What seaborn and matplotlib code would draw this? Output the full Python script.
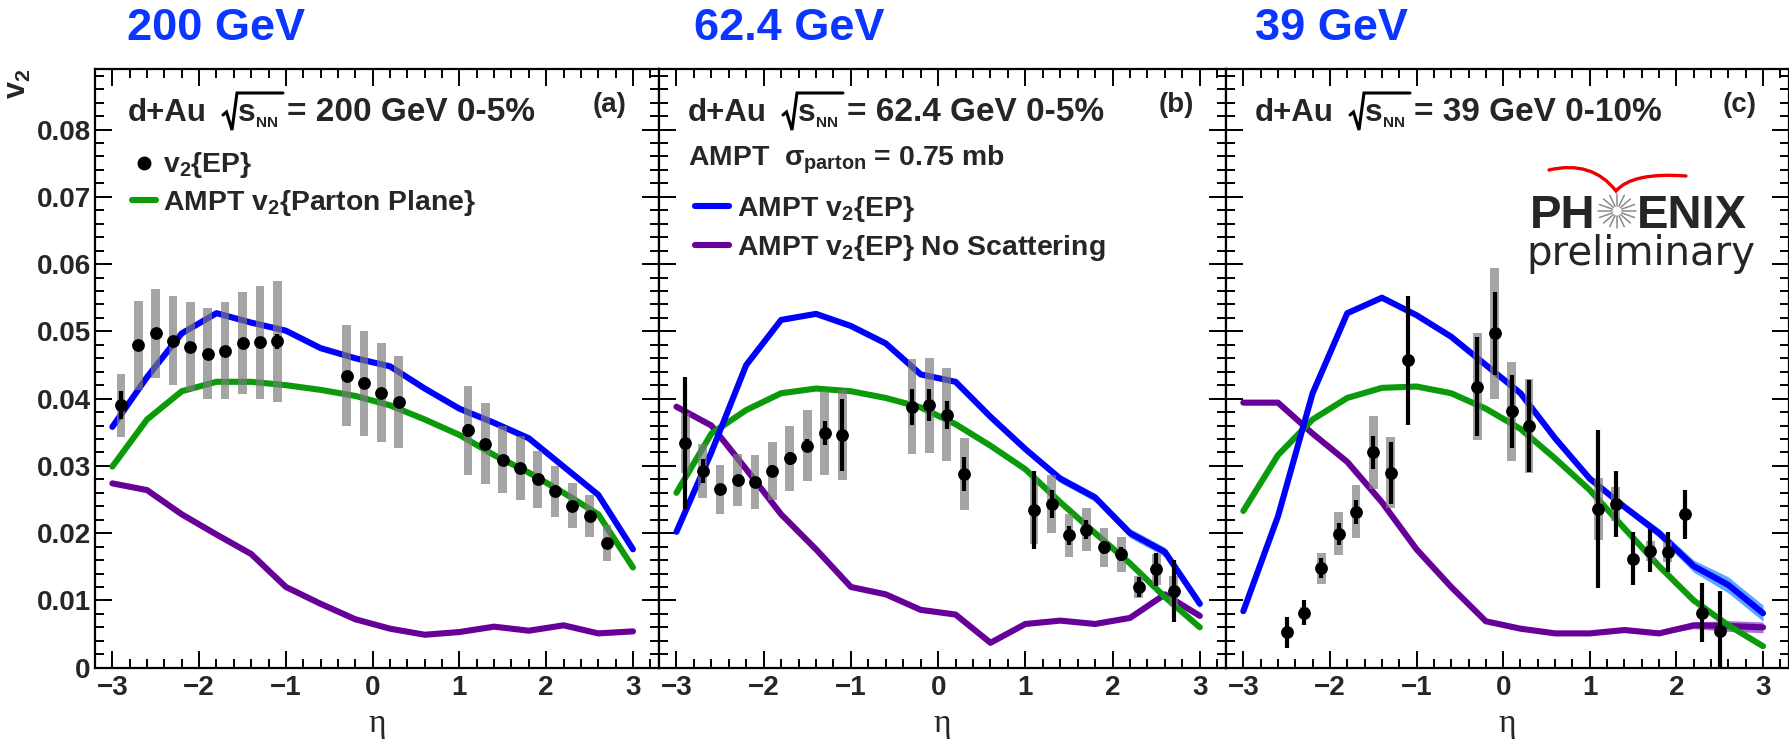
import numpy as np
import pandas as pd
import matplotlib
matplotlib.use("Agg")
import matplotlib.pyplot as plt
import seaborn as sns
from matplotlib.ticker import MultipleLocator, FixedLocator, FuncFormatter
from matplotlib.lines import Line2D
from matplotlib.path import Path
from matplotlib.patches import PathPatch

# ---------------- data ----------------
# AMPT pseudorapidity grid
ampt_eta = [-3.0, -2.6, -2.2, -1.8, -1.4, -1.0, -0.6, -0.2, 0.2, 0.6, 1.0, 1.4, 1.8, 2.2, 2.6, 3.0]

# d+Au 200 GeV 0-5%
eta_200 = [-2.9, -2.7, -2.5, -2.3, -2.1, -1.9, -1.7, -1.5, -1.3, -1.1,
           -0.3, -0.1, 0.1, 0.3,
           1.1, 1.3, 1.5, 1.7, 1.9, 2.1, 2.3, 2.5, 2.7]
v2_200 = [0.0390, 0.0479, 0.0497, 0.0486, 0.0477, 0.0467, 0.0471, 0.0483, 0.0484, 0.0485,
          0.0434, 0.0423, 0.0409, 0.0395,
          0.0353, 0.0333, 0.0309, 0.0297, 0.0280, 0.0262, 0.0241, 0.0226, 0.0185]
stat_200 = [0.0021, 0.0006, 0.0006, 0.0006, 0.0006, 0.0006, 0.0006, 0.0006, 0.0006, 0.0011,
            0.0006, 0.0006, 0.0006, 0.0006,
            0.0010, 0.0006, 0.0006, 0.0006, 0.0006, 0.0006, 0.0006, 0.0006, 0.0006]
syst_200 = [0.0047, 0.0066, 0.0066, 0.0066, 0.0066, 0.0067, 0.0072, 0.0076, 0.0084, 0.0090,
            0.0075, 0.0078, 0.0073, 0.0069,
            0.0066, 0.0060, 0.0050, 0.0047, 0.0042, 0.0038, 0.0033, 0.0031, 0.0027]
ampt_ep_200 = [0.0358, 0.0432, 0.0497, 0.0527, 0.0513, 0.0501, 0.0475, 0.0460, 0.0448, 0.0415,
               0.0385, 0.0364, 0.0341, 0.0299, 0.0257, 0.0176]
ampt_ep_err_200 = [0.0003] * 16
ampt_pp_200 = [0.0299, 0.0369, 0.0411, 0.0425, 0.0425, 0.0420, 0.0413, 0.0404, 0.0390, 0.0369,
               0.0346, 0.0316, 0.0290, 0.0260, 0.0228, 0.0149]
ampt_ns_200 = [0.0274, 0.0264, 0.0228, 0.0198, 0.0169, 0.0120, 0.0095, 0.0072, 0.0058, 0.0049,
               0.0053, 0.0061, 0.0055, 0.0063, 0.0051, 0.0054]
ampt_ns_err_200 = [0.0002] * 16

# d+Au 62.4 GeV 0-5%
eta_62 = list(eta_200)
v2_62 = [0.0334, 0.0292, 0.0265, 0.0279, 0.0276, 0.0293, 0.0311, 0.0330, 0.0349, 0.0346,
         0.0388, 0.0390, 0.0376, 0.0288,
         0.0234, 0.0243, 0.0197, 0.0205, 0.0179, 0.0169, 0.0120, 0.0146, 0.0114]
stat_62 = [0.0098, 0.0018, 0.0008, 0.0008, 0.0008, 0.0008, 0.0010, 0.0010, 0.0018, 0.0053,
           0.0027, 0.0024, 0.0021, 0.0025,
           0.0058, 0.0021, 0.0014, 0.0014, 0.0010, 0.0010, 0.0015, 0.0024, 0.0046]
syst_62 = [0.0045, 0.0040, 0.0037, 0.0039, 0.0040, 0.0043, 0.0049, 0.0053, 0.0062, 0.0067,
           0.0071, 0.0071, 0.0069, 0.0054,
           0.0050, 0.0043, 0.0032, 0.0032, 0.0029, 0.0026, 0.0017, 0.0023, 0.0022]
ampt_ep_62 = [0.0202, 0.0320, 0.0450, 0.0517, 0.0526, 0.0508, 0.0482, 0.0436, 0.0425, 0.0373,
              0.0325, 0.0281, 0.0253, 0.0200, 0.0172, 0.0095]
ampt_ep_err_62 = [0.0003, 0.0003, 0.0003, 0.0003, 0.0003, 0.0003, 0.0003, 0.0003, 0.0003, 0.0003,
                  0.0004, 0.0006, 0.0006, 0.0007, 0.0007, 0.0007]
ampt_pp_62 = [0.0260, 0.0348, 0.0383, 0.0408, 0.0415, 0.0411, 0.0401, 0.0387, 0.0362, 0.0330,
              0.0295, 0.0246, 0.0200, 0.0155, 0.0105, 0.0060]
ampt_ns_62 = [0.0388, 0.0360, 0.0295, 0.0228, 0.0176, 0.0120, 0.0109, 0.0086, 0.0079, 0.0037,
              0.0065, 0.0070, 0.0065, 0.0074, 0.0109, 0.0077]
ampt_ns_err_62 = [0.0002] * 16

# d+Au 39 GeV 0-10%
eta_39 = [-2.5, -2.3, -2.1, -1.9, -1.7, -1.5, -1.3, -1.1,
          -0.3, -0.1, 0.1, 0.3,
          1.1, 1.3, 1.5, 1.7, 1.9, 2.1, 2.3, 2.5]
v2_39 = [0.0053, 0.0082, 0.0148, 0.0199, 0.0232, 0.0320, 0.0290, 0.0457,
         0.0418, 0.0497, 0.0381, 0.0359,
         0.0236, 0.0243, 0.0162, 0.0174, 0.0172, 0.0228, 0.0082, 0.0054]
stat_39 = [0.0023, 0.0018, 0.0015, 0.0016, 0.0018, 0.0025, 0.0046, 0.0096,
           0.0073, 0.0062, 0.0054, 0.0068,
           0.0118, 0.0049, 0.0039, 0.0032, 0.0030, 0.0036, 0.0044, 0.0060]
syst_39 = [0.0005, 0.0008, 0.0023, 0.0032, 0.0039, 0.0054, 0.0053, 0.0005,
           0.0080, 0.0097, 0.0073, 0.0070,
           0.0046, 0.0025, 0.0005, 0.0015, 0.0015, 0.0005, 0.0005, 0.0005]
ampt_ep_39 = [0.0084, 0.0225, 0.0408, 0.0527, 0.0550, 0.0524, 0.0492, 0.0450, 0.0408, 0.0341,
              0.0281, 0.0239, 0.0200, 0.0151, 0.0123, 0.0081]
ampt_ep_err_39 = [0.0003, 0.0003, 0.0003, 0.0003, 0.0003, 0.0003, 0.0003, 0.0003, 0.0003, 0.0003,
                  0.0004, 0.0005, 0.0007, 0.0009, 0.0012, 0.0012]
ampt_pp_39 = [0.0233, 0.0316, 0.0369, 0.0401, 0.0416, 0.0418, 0.0408, 0.0385, 0.0355, 0.0311,
              0.0264, 0.0207, 0.0151, 0.0100, 0.0063, 0.0032]
ampt_ns_39 = [0.0394, 0.0394, 0.0348, 0.0306, 0.0246, 0.0176, 0.0120, 0.0069, 0.0058, 0.0051,
              0.0051, 0.0056, 0.0051, 0.0063, 0.0062, 0.0060]
ampt_ns_err_39 = [0.0002, 0.0002, 0.0002, 0.0002, 0.0002, 0.0002, 0.0002, 0.0002, 0.0002, 0.0002,
                  0.0002, 0.0002, 0.0002, 0.0005, 0.0008, 0.0008]

energy_titles = ["200 GeV", "62.4 GeV", "39 GeV"]
header_tails = ["= 200 GeV 0-5%", "= 62.4 GeV 0-5%", "= 39 GeV 0-10%"]
panel_tags = ["(a)", "(b)", "(c)"]
x_ticks = [-3, -2, -1, 0, 1, 2, 3]

# ---------------- style ----------------
sns.set_theme(style="ticks")
plt.rcParams["font.family"] = ["Liberation Sans", "DejaVu Sans"]
plt.rcParams["font.weight"] = "bold"
plt.rcParams["mathtext.fontset"] = "custom"
plt.rcParams["mathtext.rm"] = "Liberation Sans:bold"
plt.rcParams["mathtext.it"] = "Liberation Sans:bold"
plt.rcParams["mathtext.bf"] = "Liberation Sans:bold"
plt.rcParams["mathtext.sf"] = "Liberation Sans:bold"
plt.rcParams["axes.unicode_minus"] = True

C_BLUE = "#0000ff"
C_BAND = "#5aaaff"
C_GREEN = "#0a9a0a"
C_PURPLE = "#660099"
C_PBAND = "#a873d6"
C_TITLE = "#0a36ff"

W, H = 1790, 742
fig = plt.figure(figsize=(W / 100, H / 100), dpi=100)

top_px, bot_px = 69.0, 667.7
panel_px = [(95, 659), (659, 1226), (1226, 1789)]
axes = []
for (x0, x1) in panel_px:
    ax = fig.add_axes([x0 / W, (H - bot_px) / H, (x1 - x0) / W, (bot_px - top_px) / H])
    axes.append(ax)

panels = [
    dict(eta=eta_200, v2=v2_200, stat=stat_200, syst=syst_200,
         ep=ampt_ep_200, ep_err=ampt_ep_err_200, pp=ampt_pp_200,
         ns=ampt_ns_200, ns_err=ampt_ns_err_200),
    dict(eta=eta_62, v2=v2_62, stat=stat_62, syst=syst_62,
         ep=ampt_ep_62, ep_err=ampt_ep_err_62, pp=ampt_pp_62,
         ns=ampt_ns_62, ns_err=ampt_ns_err_62),
    dict(eta=eta_39, v2=v2_39, stat=stat_39, syst=syst_39,
         ep=ampt_ep_39, ep_err=ampt_ep_err_39, pp=ampt_pp_39,
         ns=ampt_ns_39, ns_err=ampt_ns_err_39),
]

LW = 4.4
for i, (ax, p) in enumerate(zip(axes, panels)):
    curves = pd.DataFrame({"eta": ampt_eta, "ep": p["ep"], "pp": p["pp"], "ns": p["ns"],
                           "ep_err": p["ep_err"], "ns_err": p["ns_err"]})
    pts = pd.DataFrame({"eta": p["eta"], "v2": p["v2"], "stat": p["stat"], "syst": p["syst"]})

    # model uncertainty bands
    ax.fill_between(curves["eta"], curves["ep"] - curves["ep_err"], curves["ep"] + curves["ep_err"],
                    color=C_BAND, lw=0, zorder=1)
    ax.fill_between(curves["eta"], curves["ns"] - curves["ns_err"], curves["ns"] + curves["ns_err"],
                    color=C_PBAND, lw=0, zorder=1)
    # model curves
    sns.lineplot(data=curves, x="eta", y="ns", ax=ax, color=C_PURPLE, lw=LW, sort=False,
                 estimator=None, zorder=2)
    sns.lineplot(data=curves, x="eta", y="pp", ax=ax, color=C_GREEN, lw=LW, sort=False,
                 estimator=None, zorder=2)
    sns.lineplot(data=curves, x="eta", y="ep", ax=ax, color=C_BLUE, lw=LW, sort=False,
                 estimator=None, zorder=2)

    # systematic boxes
    ax.bar(pts["eta"], 2 * pts["syst"], bottom=pts["v2"] - pts["syst"], width=0.1,
           color="#7a7a7a", alpha=0.68, lw=0, zorder=3)
    # statistical error bars
    ax.errorbar(pts["eta"], pts["v2"], yerr=pts["stat"], fmt="none", ecolor="black",
                elinewidth=3.0, capsize=0, zorder=4)
    # data points
    sns.scatterplot(data=pts, x="eta", y="v2", ax=ax, color="black", s=85, lw=0,
                    edgecolor="black", zorder=5)

    ax.set_xlim(-3.2, 3.3)
    ax.set_ylim(0, 0.089)
    ax.set_xlabel("")
    ax.set_ylabel("")
    ax.xaxis.set_major_locator(FixedLocator(x_ticks))
    ax.xaxis.set_minor_locator(MultipleLocator(0.2))
    ax.yaxis.set_major_locator(MultipleLocator(0.01))
    ax.yaxis.set_minor_locator(MultipleLocator(0.002))
    ax.tick_params(which="both", direction="in", top=True, right=True, width=1.4,
                   color="black", labelsize=20)
    ax.tick_params(which="major", length=12)
    ax.tick_params(which="minor", length=6.3)
    ax.tick_params(axis="x", which="major", pad=5)
    ax.tick_params(axis="y", which="major", pad=3)
    for s in ax.spines.values():
        s.set_linewidth(1.6)
        s.set_color("black")
    if i == 0:
        ax.yaxis.set_major_formatter(FuncFormatter(lambda v, pos: "0" if abs(v) < 1e-9 else f"{v:.2f}"))
    else:
        ax.tick_params(axis="y", labelleft=False)
    for lab in ax.get_xticklabels() + ax.get_yticklabels():
        lab.set_fontweight("bold")

    ax.text(0.943, 0.928, panel_tags[i], transform=ax.transAxes, fontsize=20,
            fontweight="bold", ha="right", va="baseline", zorder=6)

    # pseudorapidity axis label
    ax.text(0.5, -0.107, "η", transform=ax.transAxes, fontsize=24,
            family=["Liberation Serif", "DejaVu Serif"], fontweight="normal",
            ha="center", va="baseline")

# legends
axA, axB, axC = axes
hA = [Line2D([], [], color="black", marker="o", ls="none", markersize=9),
      Line2D([], [], color=C_GREEN, lw=LW)]
axA.legend(hA, [r"v$_{2}${EP}", r"AMPT v$_{2}${Parton Plane}"], loc="upper left",
           bbox_to_anchor=(0.066, 0.864), frameon=False, fontsize=20.4, handlelength=0.85,
           handletextpad=0.25, labelspacing=0.28, borderpad=0, borderaxespad=0)

axB.text(0.052, 0.8386, r"AMPT  $\sigma_{parton}$ = 0.75 mb", transform=axB.transAxes,
         fontsize=20.4, fontweight="bold", ha="left", va="baseline")
hB = [Line2D([], [], color=C_BLUE, lw=LW), Line2D([], [], color=C_PURPLE, lw=LW)]
axB.legend(hB, [r"AMPT v$_{2}${EP}", r"AMPT v$_{2}${EP} No Scattering"], loc="upper left",
           bbox_to_anchor=(0.063, 0.791), frameon=False, fontsize=20.4, handlelength=1.2,
           handletextpad=0.3, labelspacing=0.3, borderpad=0, borderaxespad=0)

# overlay in pixel coordinates for figure annotations
ov = fig.add_axes([0, 0, 1, 1], zorder=10)
ov.set_xlim(0, W)
ov.set_ylim(H, 0)
ov.axis("off")
ov.patch.set_alpha(0)

for (x0, _), t, dx in zip(panel_px, energy_titles, [32, 35, 29]):
    ov.text(x0 + dx, 40, t, color=C_TITLE, fontsize=32.5, fontweight="bold",
            ha="left", va="baseline")

# headers: d+Au  sqrt(s_NN) = ...
base_y = 121
for (x0, _), dx, tail in zip(panel_px, [33, 29, 29], header_tails):
    xs = x0 + dx
    ov.text(xs, base_y, "d+Au", fontsize=22.5, fontweight="bold", ha="left", va="baseline")
    rx = xs + 95
    # radical sign
    ov.plot([rx, rx + 3.5, rx + 9, rx + 14, rx + 60], [115, 112, 130, 93, 93],
            color="black", lw=2.2, solid_joinstyle="miter")
    ov.text(rx + 15, base_y, "s", fontsize=23, fontweight="bold", ha="left", va="baseline")
    ov.text(rx + 33, base_y + 6, "NN", fontsize=11, fontweight="bold", ha="left", va="baseline")
    ov.text(rx + 64, base_y, tail, fontsize=24, fontweight="bold", ha="left", va="baseline")

ov.text(33, 69, r"v$_{2}$", rotation=90, fontsize=22, fontweight="bold",
        ha="right", va="top")

# PHENIX preliminary logo
ov.text(1596, 228, "PH", fontsize=34, fontweight="bold", ha="right", va="baseline")
ov.text(1637, 228, "ENIX", fontsize=34, fontweight="bold", ha="left", va="baseline")
ov.text(1526, 265, "preliminary", fontsize=29, family="DejaVu Sans", fontweight="normal",
        ha="left", va="baseline")
cx, cy = 1617, 211
for ang in np.linspace(0, 2 * np.pi, 16, endpoint=False):
    ov.plot([cx + 5 * np.cos(ang), cx + 19 * np.cos(ang)],
            [cy + 5 * np.sin(ang), cy + 17 * np.sin(ang)], color="#8a8a8a", lw=1.1)
arc = Path([(1549, 170), (1592, 160), (1616, 191), (1632, 172), (1686, 176)],
           [Path.MOVETO, Path.CURVE3, Path.CURVE3, Path.CURVE3, Path.CURVE3])
ov.add_patch(PathPatch(arc, fill=False, edgecolor="#ee0000", lw=2.4, capstyle="round"))

fig.savefig("out.png", dpi=100)
